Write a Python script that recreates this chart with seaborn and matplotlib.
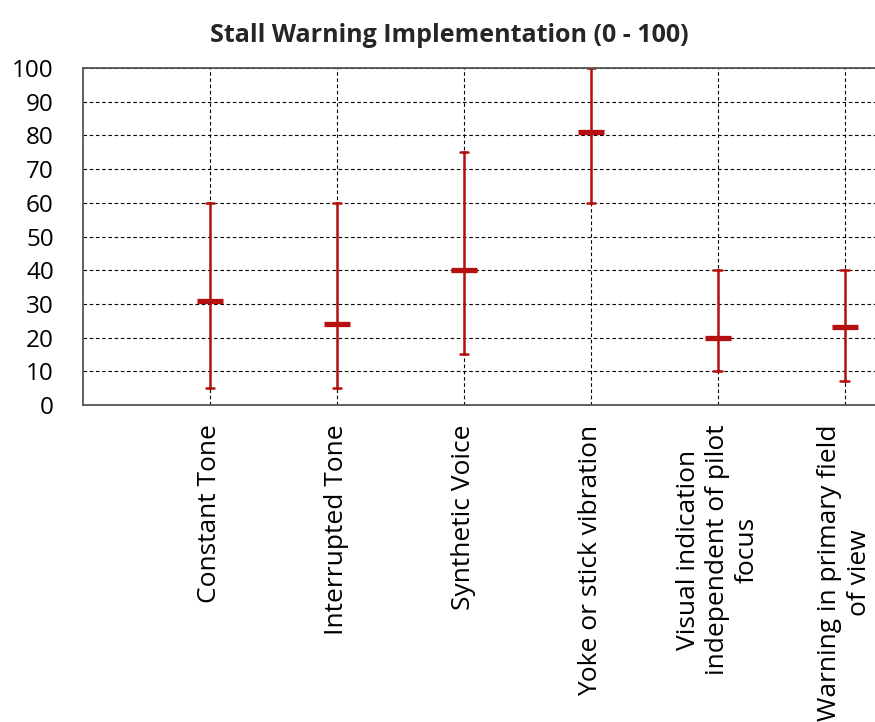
import numpy as np
import pandas as pd
import seaborn as sns
import matplotlib.pyplot as plt

# Survey scores (0 - 100) per stall-warning method: lowest, median, highest
categories = [
    "Constant Tone",
    "Interrupted Tone",
    "Synthetic Voice",
    "Yoke or stick vibration",
    "Visual indication\nindependent of pilot\nfocus",
    "Warning in primary field\nof view",
]
low = [5, 5, 15, 60, 10, 7]
median = [31, 24, 40, 81, 20, 23]
high = [60, 60, 75, 100, 40, 40]
y_ticks = [0, 10, 20, 30, 40, 50, 60, 70, 80, 90, 100]
title = "Stall Warning Implementation (0 - 100)"

RED = "#B50F0F"

sns.set_theme(style="white")
plt.rcParams["font.family"] = ["Open Sans", "DejaVu Sans"]

# Long format: the three values of each method; median marks the centre,
# the full (100 %) interval spans lowest to highest.
scores = pd.DataFrame({
    "method": np.repeat(categories, 3),
    "score": np.column_stack([low, median, high]).ravel(),
})

fig = plt.figure(figsize=(8.75, 7.22), dpi=100)
ax = fig.add_axes([83 / 875, 1 - 405 / 722, 1 - 83 / 875, (405 - 68) / 722])
ax.set_axisbelow(True)

sns.pointplot(
    data=scores, x="method", y="score", order=categories,
    estimator="median", errorbar=("pi", 100),
    linestyle="none", marker="_", markersize=19, markeredgewidth=3.8,
    color=RED, capsize=0.065, err_kws={"linewidth": 1.8},
    ax=ax,
)

ax.set_xlim(-1, 5.24)
ax.set_ylim(0, 100)
ax.set_yticks(y_ticks)
ax.set_yticklabels([str(v) for v in y_ticks], fontsize=17.5)
ax.set_xticks(range(len(categories)))
ax.set_xticklabels(categories, rotation=90, fontsize=19,
                   multialignment="center", linespacing=1.22)
ax.set_xlabel("")
ax.set_ylabel("")

ax.grid(True, color="black", linestyle=(0, (3.2, 2.4)), linewidth=0.8)
ax.tick_params(axis="x", direction="in", length=4, width=1,
               color="#555555", labelcolor="black", pad=14)
ax.tick_params(axis="y", length=0, pad=21, labelcolor="black")

for side in ["top", "left", "bottom"]:
    ax.spines[side].set_visible(True)
    ax.spines[side].set_color("#555555")
    ax.spines[side].set_linewidth(1.3)
ax.spines["right"].set_visible(False)

fig.text(0.514, 0.951, title, ha="center", va="center",
         fontsize=18, fontweight="bold")

fig.savefig("out.png", dpi=100)
